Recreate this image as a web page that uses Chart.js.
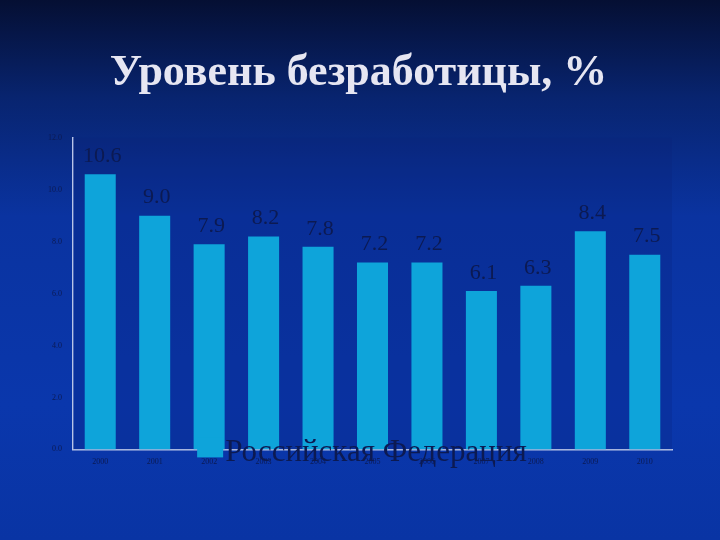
<!DOCTYPE html>
<html>
<head>
<meta charset="utf-8">
<script src="https://cdn.jsdelivr.net/npm/chart.js@4/dist/chart.umd.min.js"></script>
<style>
  html, body { margin: 0; padding: 0; }
  body {
    width: 720px; height: 540px; overflow: hidden;
    background: linear-gradient(180deg, #050f33 0%, #08246f 18%, #0a33a0 40%, #0a37ac 75%, #0934a4 100%);
  }
  #wrap { position: relative; width: 720px; height: 540px; }
</style>
</head>
<body>
<div id="wrap"><canvas id="grafico" width="720" height="540"></canvas></div>
<script>
// данные
var anos = ["2000", "2001", "2002", "2003", "2004", "2005", "2006", "2007", "2008", "2009", "2010"];
var desemprego = [10.6, 9.0, 7.9, 8.2, 7.8, 7.2, 7.2, 6.1, 6.3, 8.4, 7.5];
var rotuloSerie = "Российская Федерация";
var titulo = "Уровень безработицы, %";

var corBarra = "#0ea4da";
var corEscura = "#0c1a52";
var serif = "'Liberation Serif', 'DejaVu Serif', serif";

// fundo da área de plotagem, um pouco mais escuro
var fundoPlot = {
  id: "fundoPlot",
  beforeDatasetsDraw: function (c) {
    var a = c.chartArea, ctx = c.ctx;
    ctx.save();
    ctx.fillStyle = "rgba(8, 30, 120, 0.22)";
    ctx.fillRect(a.left, a.top, a.right - a.left, a.bottom - a.top);
    ctx.restore();
  }
};

// valores acima das barras
var rotulos = {
  id: "rotulos",
  afterDatasetsDraw: function (c) {
    var ctx = c.ctx, meta = c.getDatasetMeta(0);
    ctx.save();
    ctx.font = "22px " + serif;
    ctx.fillStyle = corEscura;
    ctx.textAlign = "center";
    ctx.textBaseline = "bottom";
    meta.data.forEach(function (b, i) {
      ctx.fillText(desemprego[i].toFixed(1), b.x + 2, b.y - 7);
    });
    ctx.restore();
  }
};

// legenda sobreposta aos rótulos do eixo x, como no slide
var legenda = {
  id: "legendaSlide",
  afterDraw: function (c) {
    var ctx = c.ctx, xa = c.scales.x, ya = c.scales.y;
    var bx = xa.getPixelForValue(2) - 12;
    var by = ya.bottom - 12;
    ctx.save();
    ctx.fillStyle = corBarra;
    ctx.fillRect(bx, by, 26, 20);
    ctx.font = "31px " + serif;
    ctx.fillStyle = corEscura;
    ctx.textBaseline = "alphabetic";
    ctx.textAlign = "left";
    ctx.fillText(rotuloSerie, bx + 28, by + 24);
    ctx.restore();
  }
};

new Chart(document.getElementById("grafico"), {
  type: "bar",
  data: {
    labels: anos,
    datasets: [{
      label: rotuloSerie, data: desemprego,
      backgroundColor: corBarra, borderWidth: 0,
      barPercentage: 0.57, categoryPercentage: 1
    }]
  },
  plugins: [fundoPlot, rotulos, legenda],
  options: {
    responsive: false, animation: false,
    layout: { padding: { left: 45, right: 48, top: 0, bottom: 65 } },
    scales: {
      x: {
        grid: { display: false, drawTicks: false },
        border: { color: "#b8c4e8", width: 1.5 },
        ticks: { color: corEscura, font: { size: 8, family: serif }, padding: 8, maxRotation: 0 }
      },
      y: {
        min: 0, max: 12,
        grid: { display: false },
        border: { color: "#b8c4e8", width: 1.5 },
        ticks: { stepSize: 2, color: corEscura, font: { size: 8, family: serif }, padding: 3,
          callback: function (v) { return Number(v).toFixed(1); } }
      }
    },
    plugins: {
      legend: { display: false },
      tooltip: { enabled: false },
      title: {
        display: true, text: titulo, color: "#e6e6f2",
        font: { size: 44, weight: "bold", family: serif },
        padding: { top: 47, bottom: 38 }
      }
    }
  }
});
</script>
</body>
</html>
